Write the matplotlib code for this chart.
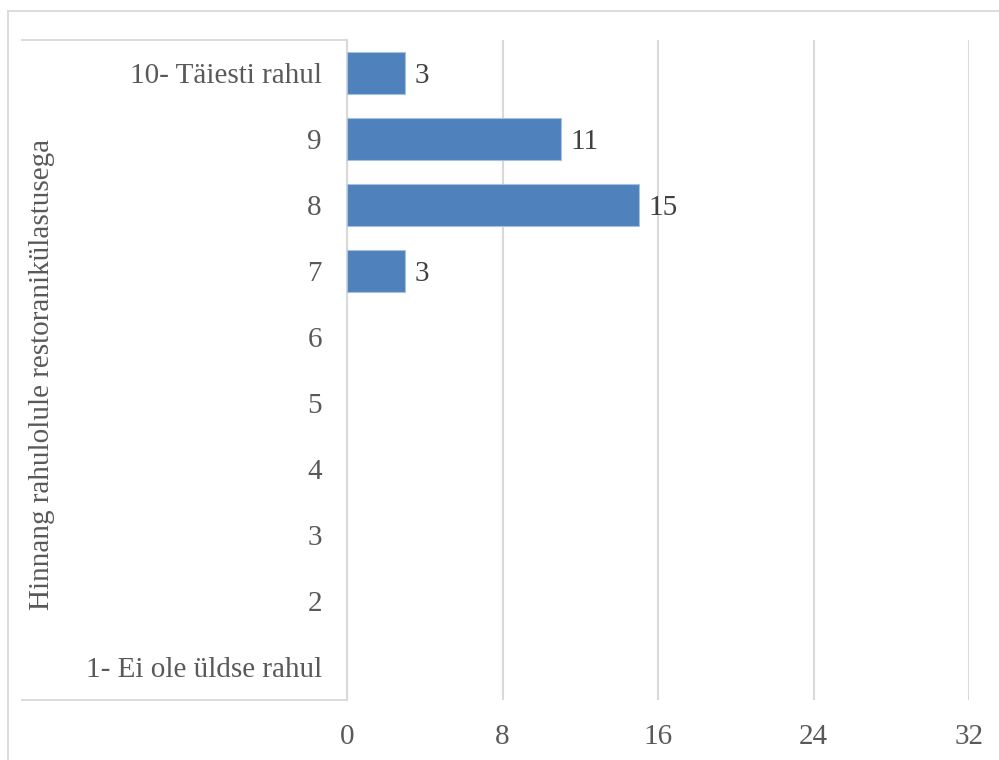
import numpy as np
from matplotlib import pyplot as plt
from matplotlib.lines import Line2D

# categories bottom -> top
categories = ["1- Ei ole üldse rahul", "2", "3", "4", "5", "6", "7", "8", "9", "10- Täiesti rahul"]
counts = [0, 0, 0, 0, 0, 0, 3, 15, 11, 3]
x_ticks = [0, 8, 16, 24, 32]
y_title = "Hinnang rahulolule restoranikülastusega"

txt = "#595959"
grid = "#d9d9d9"
fs = 21
plt.rcParams['font.family'] = ['Liberation Serif', 'DejaVu Serif']

fig = plt.figure(figsize=(9.99, 7.6), dpi=100)
W, H = 999.0, 760.0
ax = fig.add_axes([347 / W, 1 - 700 / H, 622 / W, 660 / H])

ypos = np.arange(len(categories))
edges = ["#a7c0e0" if v > 0 else "none" for v in counts]
bars = ax.barh(ypos, counts, height=0.65, color="#4f81bd", edgecolor=edges, linewidth=0.8, zorder=3)
for b, v in zip(bars, counts):
    if v > 0:
        ax.text(v + 0.5, b.get_y() + b.get_height() / 2 - 0.05, str(v), va="center", ha="left",
                fontsize=fs, color="#404040")

ax.set_xlim(0, 32)
ax.set_ylim(-0.5, len(categories) - 0.5)
ax.set_xticks(x_ticks)
ax.set_xticklabels([str(t) for t in x_ticks])
ax.set_yticks(ypos)
ax.set_yticklabels(categories)
ax.tick_params(axis="both", length=0, labelsize=fs, labelcolor=txt)
ax.tick_params(axis="x", pad=17)
ax.tick_params(axis="y", pad=18)
ax.xaxis.grid(True, color=grid, linewidth=1.5, zorder=0)
for s in ["top", "right", "bottom"]:
    ax.spines[s].set_visible(False)
ax.spines["left"].set_color(grid)
ax.spines["left"].set_linewidth(1.5)

# y title
fig.text(42 / W, 1 - 374 / H, y_title, rotation=90, ha="center", va="center", fontsize=fs, color=txt)

# category axis box lines and outer frame
def fl(x0, y0, x1, y1):
    fig.add_artist(Line2D([x0 / W, x1 / W], [1 - y0 / H, 1 - y1 / H], color=grid, linewidth=1.3))

fl(22, 40, 347, 40)
fl(22, 700, 347, 700)
fl(8, 11, 999, 11)
fl(8, 11, 8, 760)

fig.savefig("out.png", dpi=100)
